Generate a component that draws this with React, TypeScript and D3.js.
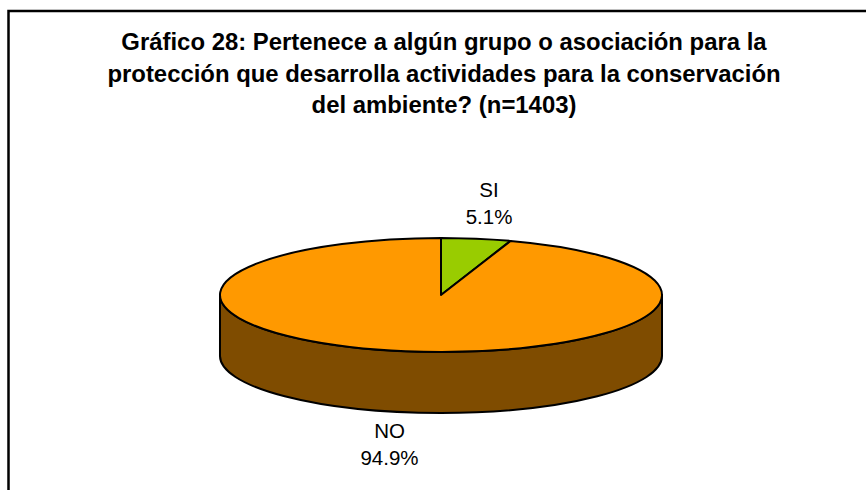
import React from 'react';
import * as d3 from 'd3';

const categories = ['SI', 'NO'];
const values = [5.1, 94.9];
const colors = ['#99cc00', '#ff9900'];
const titleLines = [
  'Gráfico 28: Pertenece a algún grupo o asociación para la',
  'protección que desarrolla actividades para la conservación',
  'del ambiente? (n=1403)',
];

const width = 866;
const height = 490;
const cx = 441;
const cy = 295;
const rx = 221;
const ry = 57;
const depth = 61;
const font = '"Liberation Sans", Arial, sans-serif';

const App = () => {
  const pie = d3.pie<number>().sort(null)(values);
  const arc = d3.arc<d3.PieArcDatum<number>>().innerRadius(0).outerRadius(rx);

  // side wall of the cylinder, front half only
  const side = `M${cx - rx},${cy} A${rx},${ry} 0 0 0 ${cx + rx},${cy} L${cx + rx},${cy + depth} A${rx},${ry} 0 0 1 ${cx - rx},${cy + depth} Z`;

  return (
    <svg
      width={width}
      height={height}
      style={{ position: 'fixed', left: 0, top: 0, background: '#fff' }}
      fontFamily={font}
    >
      <path d={`M8.5,${height} V11 H${width}`} fill="none" stroke="#000" strokeWidth={2.5} />

      {titleLines.map((line, i) => (
        <text key={i} x={444} y={50 + i * 31.5} textAnchor="middle" fontSize={23.9} fontWeight="bold" fill="#000">
          {line}
        </text>
      ))}

      <path d={side} fill="#7f4c00" stroke="#000" strokeWidth={2} strokeLinejoin="round" />

      <g transform={`translate(${cx},${cy}) scale(1,${ry / rx})`}>
        {pie.map((d, i) => (
          <path
            key={categories[i]}
            d={arc(d) as string}
            fill={colors[i]}
            stroke="#000"
            strokeWidth={2}
            strokeLinejoin="round"
            vectorEffect="non-scaling-stroke"
          />
        ))}
      </g>

      <text textAnchor="middle" fontSize={20.5} fill="#000">
        <tspan x={489} y={197}>{categories[0]}</tspan>
        <tspan x={489} y={224}>{values[0].toFixed(1)}%</tspan>
      </text>
      <text textAnchor="middle" fontSize={20.5} fill="#000">
        <tspan x={389.5} y={438}>{categories[1]}</tspan>
        <tspan x={389.5} y={465}>{values[1].toFixed(1)}%</tspan>
      </text>
    </svg>
  );
};

export default App;
